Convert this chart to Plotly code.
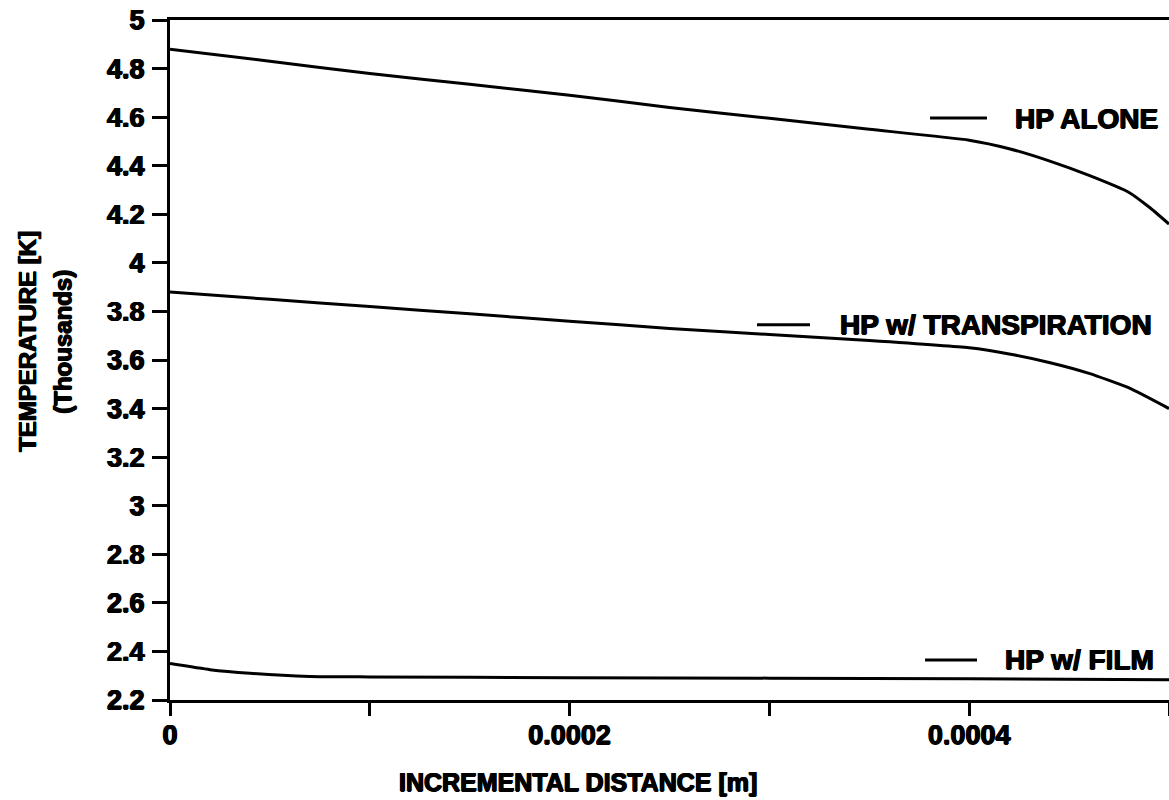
import plotly.graph_objects as go

# distance [m]
x_alone = [0, 0.00005, 0.0001, 0.00015, 0.0002, 0.00025, 0.0003, 0.00035, 0.0004, 0.00042, 0.00044, 0.00046, 0.00048, 0.00049, 0.0005]
t_alone = [4.88, 4.83, 4.78, 4.735, 4.69, 4.64, 4.595, 4.55, 4.505, 4.47, 4.42, 4.36, 4.29, 4.23, 4.16]

x_transp = [0, 0.00005, 0.0001, 0.00015, 0.0002, 0.00025, 0.0003, 0.00035, 0.0004, 0.00042, 0.00044, 0.00046, 0.00048, 0.0005]
t_transp = [3.88, 3.85, 3.82, 3.79, 3.76, 3.73, 3.705, 3.68, 3.65, 3.625, 3.59, 3.545, 3.485, 3.40]

x_film = [0, 0.00002, 0.00004, 0.00007, 0.0001, 0.0002, 0.0003, 0.0004, 0.0005]
t_film = [2.35, 2.325, 2.31, 2.297, 2.295, 2.292, 2.29, 2.287, 2.283]

series_names = ["HP ALONE", "HP w/ TRANSPIRATION", "HP w/ FILM"]

x_tickvals = [0, 0.0001, 0.0002, 0.0003, 0.0004, 0.0005]
x_ticktext = ["0", "", "0.0002", "", "0.0004", ""]
y_tickvals = [2.2, 2.4, 2.6, 2.8, 3.0, 3.2, 3.4, 3.6, 3.8, 4.0, 4.2, 4.4, 4.6, 4.8, 5.0]
y_ticktext = ["2.2", "2.4", "2.6", "2.8", "3", "3.2", "3.4", "3.6", "3.8", "4", "4.2", "4.4", "4.6", "4.8", "5"]

FONT = "Liberation Sans, Arial, sans-serif"
SHADOW = "0.7px 0 0 black, -0.7px 0 0 black, 0 0.5px 0 black"
LW = 3

fig = go.Figure()
for xs, ys, name in [(x_alone, t_alone, series_names[0]),
                     (x_transp, t_transp, series_names[1]),
                     (x_film, t_film, series_names[2])]:
    fig.add_trace(go.Scatter(x=xs, y=ys, mode="lines", name=name,
                             line=dict(color="black", width=LW, shape="spline", smoothing=0.5),
                             showlegend=False))

# in-plot legend entries (segment + label)
legend_pos = [
    (0.0003804, 0.0004089, 0.0004219, 4.596),
    (0.0002938, 0.0003203, 0.0003343, 3.745),
    (0.0003779, 0.0004039, 0.0004169, 2.365),
]
for (x0, x1, xt, yy), name in zip(legend_pos, series_names):
    fig.add_shape(type="line", x0=x0, x1=x1, y0=yy, y1=yy, xref="x", yref="y",
                  line=dict(color="black", width=LW))
    fig.add_annotation(x=xt, y=yy, xref="x", yref="y", text="<b>%s</b>" % name,
                       showarrow=False, xanchor="left", yanchor="middle",
                       font=dict(family=FONT, size=28, color="black", shadow=SHADOW))

fig.add_annotation(x=-0.143, y=0.527, xref="paper", yref="paper",
                   text="<b>TEMPERATURE [K]</b>", textangle=-90, showarrow=False,
                   xanchor="center", yanchor="middle",
                   font=dict(family=FONT, size=24, color="black", shadow=SHADOW))
fig.add_annotation(x=-0.107, y=0.527, xref="paper", yref="paper",
                   text="<b>(Thousands)</b>", textangle=-90, showarrow=False,
                   xanchor="center", yanchor="middle",
                   font=dict(family=FONT, size=24, color="black", shadow=SHADOW))
fig.add_annotation(x=0.408, y=-0.12, xref="paper", yref="paper",
                   text="<b>INCREMENTAL DISTANCE [m]</b>", showarrow=False,
                   xanchor="center", yanchor="middle",
                   font=dict(family=FONT, size=25, color="black", shadow=SHADOW))

fig.update_layout(
    width=1169, height=800,
    margin=dict(l=170, r=0, t=20, b=100),
    paper_bgcolor="white", plot_bgcolor="white",
    font=dict(family=FONT, color="black"),
    xaxis=dict(range=[0, 0.0005], tickvals=x_tickvals, ticktext=x_ticktext,
               ticks="outside", ticklen=13, tickwidth=LW, tickcolor="black",
               showline=True, linecolor="black", linewidth=LW, mirror=True,
               showgrid=False, zeroline=False, ticklabelstandoff=-4,
               tickfont=dict(family=FONT, size=27, color="black", weight="bold", shadow=SHADOW)),
    yaxis=dict(range=[2.2, 5.0], tickvals=y_tickvals, ticktext=y_ticktext,
               ticks="outside", ticklen=15, tickwidth=LW, tickcolor="black",
               showline=True, linecolor="black", linewidth=LW,
               showgrid=False, zeroline=False, ticklabelstandoff=2,
               tickfont=dict(family=FONT, size=27, color="black", weight="bold", shadow=SHADOW)),
)

fig.write_html("out.html")
